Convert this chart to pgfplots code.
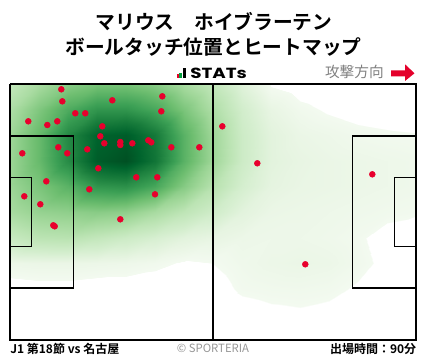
\documentclass[border=0pt]{standalone}
\usepackage{fontspec}
\setmainfont{Noto Sans CJK JP}[BoldFont={Noto Sans CJK JP Bold}]
\newfontfamily\popfont{Poppins}[FakeStretch=1.25]
\usepackage{pgfplots}
\usepackage{pgfplotstable}
\pgfplotsset{compat=1.18}
\definecolor{dotred}{RGB}{232,0,45}
\definecolor{arrred}{RGB}{228,0,43}
\definecolor{iconred}{RGB}{230,0,40}
\definecolor{icongreen}{RGB}{0,160,60}
\definecolor{txtgray}{RGB}{128,128,128}
\definecolor{lightgray}{RGB}{150,150,150}
\pgfplotsset{colormap={heat}{rgb255(0pt)=(255,255,255) rgb255(39pt)=(255,255,255) rgb255(40pt)=(243,250,240) rgb255(80pt)=(232,245,227) rgb255(150pt)=(212,238,206) rgb255(250pt)=(188,228,180) rgb255(350pt)=(160,215,153) rgb255(500pt)=(110,190,112) rgb255(650pt)=(60,160,85) rgb255(800pt)=(25,125,60) rgb255(920pt)=(0,100,45) rgb255(1000pt)=(0,80,35)}}
\pgfplotstableread{
x y z v
0 0 0 0.22
7.5 0 0 0.32
15 0 0 0.42
22.5 0 0 0.47
30 0 0 0.47
37.5 0 0 0.42
45 0 0 0.32
52.5 0 0 0.22
60 0 0 0.11
67.5 0 0 0.035
75 0 0 0.02
82.5 0 0 0.01
90 0 0 0.005
97.5 0 0 0
105 0 0 0
0 6.8 0 0.30
7.5 6.8 0 0.45
15 6.8 0 0.60
22.5 6.8 0 0.70
30 6.8 0 0.70
37.5 6.8 0 0.62
45 6.8 0 0.46
52.5 6.8 0 0.30
60 6.8 0 0.16
67.5 6.8 0 0.08
75 6.8 0 0.05
82.5 6.8 0 0.035
90 6.8 0 0.025
97.5 6.8 0 0.02
105 6.8 0 0.015
0 13.6 0 0.35
7.5 13.6 0 0.52
15 13.6 0 0.75
22.5 13.6 0 0.92
30 13.6 0 0.95
37.5 13.6 0 0.82
45 13.6 0 0.56
52.5 13.6 0 0.35
60 13.6 0 0.18
67.5 13.6 0 0.10
75 13.6 0 0.07
82.5 13.6 0 0.06
90 13.6 0 0.05
97.5 13.6 0 0.045
105 13.6 0 0.042
0 20.4 0 0.36
7.5 20.4 0 0.52
15 20.4 0 0.74
22.5 20.4 0 0.95
30 20.4 0 1.00
37.5 20.4 0 0.84
45 20.4 0 0.56
52.5 20.4 0 0.35
60 20.4 0 0.18
67.5 20.4 0 0.10
75 20.4 0 0.08
82.5 20.4 0 0.07
90 20.4 0 0.065
97.5 20.4 0 0.06
105 20.4 0 0.055
0 27.2 0 0.36
7.5 27.2 0 0.46
15 27.2 0 0.56
22.5 27.2 0 0.70
30 27.2 0 0.72
37.5 27.2 0 0.62
45 27.2 0 0.43
52.5 27.2 0 0.27
60 27.2 0 0.15
67.5 27.2 0 0.09
75 27.2 0 0.075
82.5 27.2 0 0.07
90 27.2 0 0.065
97.5 27.2 0 0.06
105 27.2 0 0.055
0 34 0 0.32
7.5 34 0 0.38
15 34 0 0.40
22.5 34 0 0.42
30 34 0 0.40
37.5 34 0 0.32
45 34 0 0.24
52.5 34 0 0.17
60 34 0 0.10
67.5 34 0 0.07
75 34 0 0.065
82.5 34 0 0.06
90 34 0 0.055
97.5 34 0 0.05
105 34 0 0.045
0 40.8 0 0.20
7.5 40.8 0 0.25
15 40.8 0 0.26
22.5 40.8 0 0.22
30 40.8 0 0.18
37.5 40.8 0 0.14
45 40.8 0 0.10
52.5 40.8 0 0.08
60 40.8 0 0.065
67.5 40.8 0 0.06
75 40.8 0 0.06
82.5 40.8 0 0.055
90 40.8 0 0.045
97.5 40.8 0 0.025
105 40.8 0 0.01
0 47.6 0 0.065
7.5 47.6 0 0.07
15 47.6 0 0.07
22.5 47.6 0 0.065
30 47.6 0 0.06
37.5 47.6 0 0.05
45 47.6 0 0.035
52.5 47.6 0 0.04
60 47.6 0 0.055
67.5 47.6 0 0.065
75 47.6 0 0.07
82.5 47.6 0 0.065
90 47.6 0 0.05
97.5 47.6 0 0.03
105 47.6 0 0.01
0 54.4 0 0.02
7.5 54.4 0 0.025
15 54.4 0 0.025
22.5 54.4 0 0.02
30 54.4 0 0.02
37.5 54.4 0 0.015
45 54.4 0 0.015
52.5 54.4 0 0.025
60 54.4 0 0.045
67.5 54.4 0 0.05
75 54.4 0 0.052
82.5 54.4 0 0.048
90 54.4 0 0.035
97.5 54.4 0 0.015
105 54.4 0 0.005
0 61.2 0 0
7.5 61.2 0 0
15 61.2 0 0
22.5 61.2 0 0
30 61.2 0 0
37.5 61.2 0 0
45 61.2 0 0
52.5 61.2 0 0.01
60 61.2 0 0.025
67.5 61.2 0 0.032
75 61.2 0 0.035
82.5 61.2 0 0.03
90 61.2 0 0.015
97.5 61.2 0 0
105 61.2 0 0
0 68 0 0
7.5 68 0 0
15 68 0 0
22.5 68 0 0
30 68 0 0
37.5 68 0 0
45 68 0 0
52.5 68 0 0
60 68 0 0
67.5 68 0 0
75 68 0 0
82.5 68 0 0
90 68 0 0
97.5 68 0 0
105 68 0 0
}\heat
\pgfplotstableread{
x y
13.27 1.41
13.53 4.60
26.46 4.33
39.39 3.27
39.13 7.25
16.89 7.78
19.47 7.78
4.73 9.91
9.65 10.89
12.23 9.91
23.87 11.24
23.35 13.89
24.39 15.75
28.53 15.41
28.53 16.20
31.63 15.75
35.77 14.95
36.54 15.49
41.72 16.81
48.96 16.81
3.18 18.41
12.49 16.81
14.82 18.41
19.99 17.35
22.84 22.39
32.66 24.78
38.09 24.78
9.39 25.85
20.51 27.97
37.50 29.30
3.70 29.83
7.84 31.95
11.20 37.53
11.56 37.80
28.53 35.94
54.91 11.24
63.96 21.06
93.70 23.99
76.37 47.89
}\touches
\begin{document}
\begin{tikzpicture}[x=0.75pt,y=0.75pt]
\useasboundingbox (0,0) rectangle (428,359);
\begin{axis}[
  at={(7.5pt,14.25pt)}, anchor=south west,
  width=304.5pt, height=192pt, scale only axis,
  xmin=0, xmax=105, ymin=0, ymax=68, zmin=-1, zmax=1,
  y dir=reverse, view={0}{90},
  hide axis, clip=false, enlargelimits=false,
  colormap name=heat, point meta min=0, point meta max=1,
]
\addplot3[surf, shader=interp, mesh/cols=15, point meta=\thisrow{v}] table[x=x, y=y, z=z] {\heat};
\addplot[black, line width=1pt] coordinates {(0,0) (105,0) (105,68) (0,68) (0,0)};
\addplot[black, line width=1pt] coordinates {(52.5,0) (52.5,68)};
\addplot[black, line width=1pt] coordinates {(0,13.84) (16.5,13.84) (16.5,54.16) (0,54.16)};
\addplot[black, line width=1pt] coordinates {(0,24.84) (5.5,24.84) (5.5,43.16) (0,43.16)};
\addplot[black, line width=1pt] coordinates {(105,13.84) (88.5,13.84) (88.5,54.16) (105,54.16)};
\addplot[black, line width=1pt] coordinates {(105,24.84) (99.5,24.84) (99.5,43.16) (105,43.16)};
\addplot[only marks, mark=*, mark size=2.2pt, mark options={fill=dotred, draw=dotred}] table[x=x, y=y] {\touches};
\end{axis}
% title
\node[font=\fontsize{14.8}{16}\selectfont\bfseries] at (214,337.5) {マリウス　ホイブラーテン};
\node[font=\fontsize{14.8}{16}\selectfont\bfseries] at (213.5,312) {ボールタッチ位置とヒートマップ};
% STATs logo
\fill[iconred] (176.7,359-78) rectangle (179.3,359-74);
\fill[icongreen] (179.3,359-78) rectangle (182.3,359-73);
\fill[black] (183,359-78) rectangle (186,359-68);
\node[anchor=west, inner sep=0pt, font=\popfont\bfseries\fontsize{11}{12}\selectfont] at (190,359-73.3) {STATs};
% direction
\node[anchor=east, inner sep=0pt, text=txtgray, font=\fontsize{11}{12}\selectfont] at (384,359-71.5) {攻撃方向};
\fill[arrred] (391,359-70.3) -- (405,359-70.3) -- (405,359-64.3) -- (414.5,359-73.3) -- (405,359-81) -- (405,359-76.3) -- (391,359-76.3) -- cycle;
% footer
\node[anchor=west, inner sep=0pt, font=\fontsize{9}{10}\selectfont\bfseries] at (10,359-349) {J1 第18節 vs 名古屋};
\node[inner sep=0pt, text=lightgray, font=\fontsize{8.5}{10}\selectfont] at (213,359-348.5) {© SPORTERIA};
\node[anchor=east, inner sep=0pt, font=\fontsize{9}{10}\selectfont\bfseries] at (416.5,359-349) {出場時間：90分};
\end{tikzpicture}
\end{document}
